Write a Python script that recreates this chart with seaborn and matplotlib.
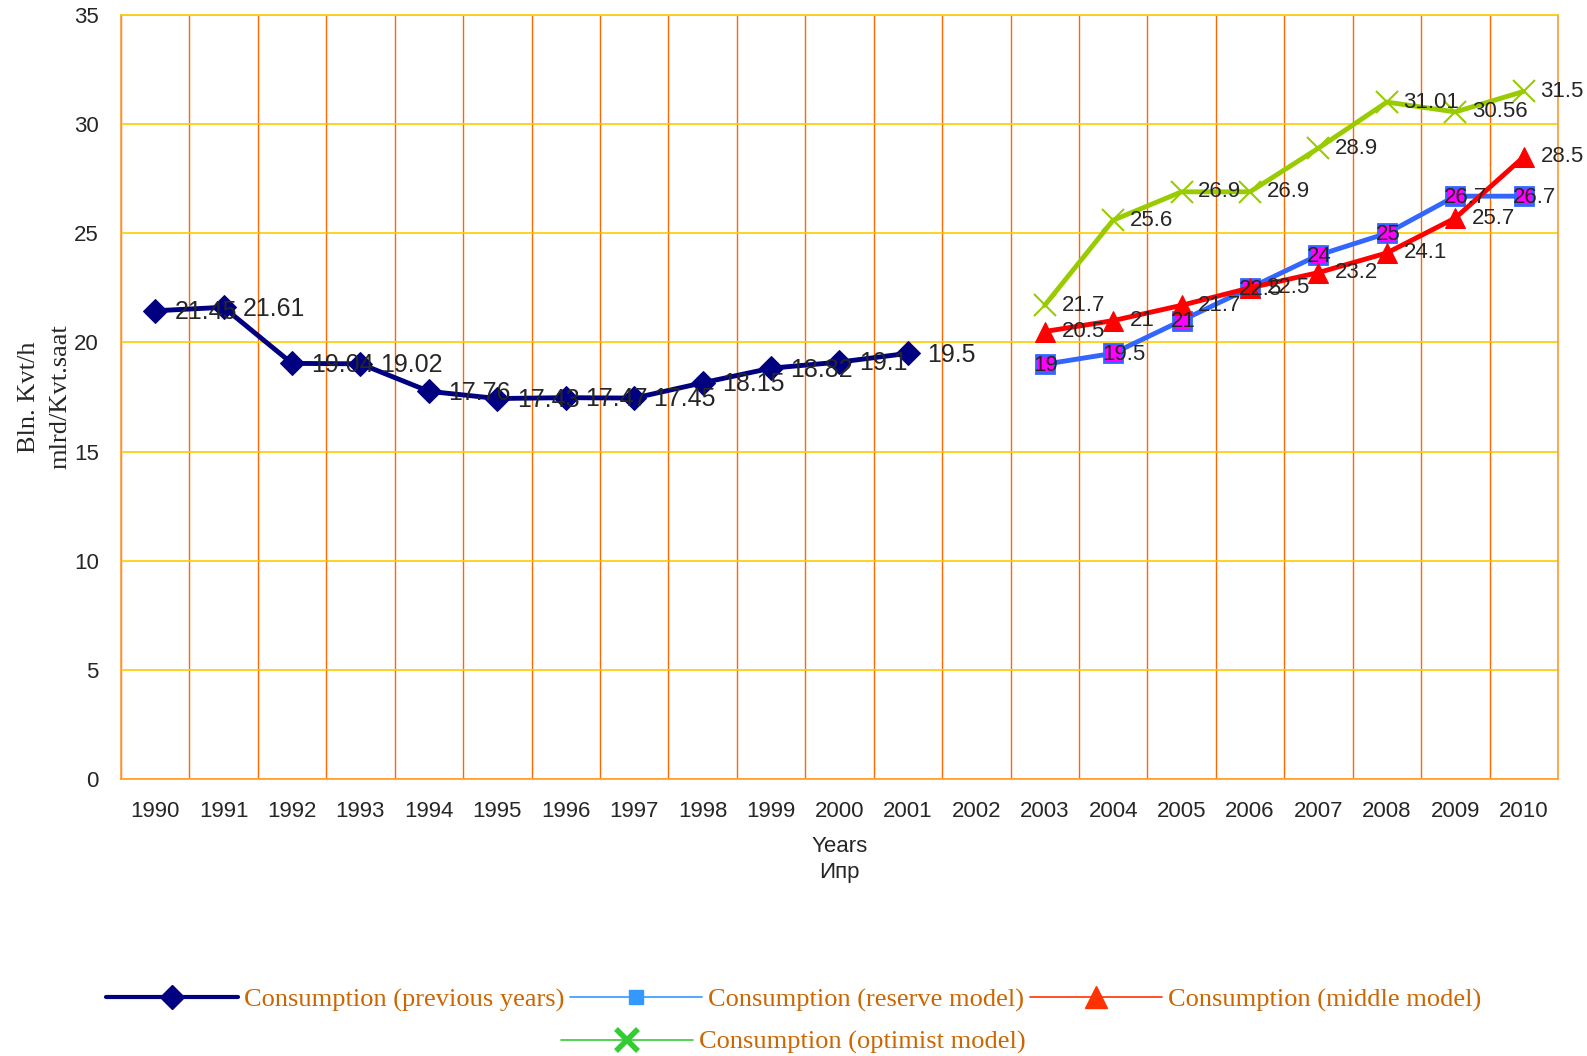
import matplotlib
matplotlib.use('Agg')
import matplotlib.pyplot as plt
import pandas as pd
import seaborn as sns
from matplotlib.lines import Line2D
from matplotlib.ticker import FixedLocator

# Data
prev_years = [1990, 1991, 1992, 1993, 1994, 1995, 1996, 1997, 1998, 1999, 2000, 2001]
prev_values = [21.45, 21.61, 19.04, 19.02, 17.76, 17.43, 17.47, 17.45, 18.15, 18.82, 19.1, 19.5]
model_years = [2003, 2004, 2005, 2006, 2007, 2008, 2009, 2010]
reserve_values = [19, 19.5, 21, 22.5, 24, 25, 26.7, 26.7]
middle_values = [20.5, 21, 21.7, 22.5, 23.2, 24.1, 25.7, 28.5]
optimist_values = [21.7, 25.6, 26.9, 26.9, 28.9, 31.01, 30.56, 31.5]
all_years = list(range(1990, 2011))

legend_labels = ['Consumption (previous years)', 'Consumption (reserve model)',
                 'Consumption (middle model)', 'Consumption (optimist model)']

sns.set_style('white')
plt.rcParams['font.family'] = ['Liberation Sans', 'DejaVu Sans']

fig = plt.figure(figsize=(15.87, 10.56), dpi=100)
ax = fig.add_axes([0.0762, 0.2623, 0.9055, 0.7235])

df_prev = pd.DataFrame({'year': prev_years, 'value': prev_values})
df_res = pd.DataFrame({'year': model_years, 'value': reserve_values})
df_mid = pd.DataFrame({'year': model_years, 'value': middle_values})
df_opt = pd.DataFrame({'year': model_years, 'value': optimist_values})

sns.lineplot(data=df_opt, x='year', y='value', ax=ax, color='#99CC00', lw=3.5,
             marker='x', markersize=16, markeredgewidth=1.5, markeredgecolor='#99CC00', zorder=3)
sns.lineplot(data=df_res, x='year', y='value', ax=ax, color='#3366FF', lw=3.5,
             marker='s', markersize=13, markerfacecolor='#FF00FF', markeredgecolor='#3366FF',
             markeredgewidth=2, zorder=4)
sns.lineplot(data=df_mid, x='year', y='value', ax=ax, color='#FF0000', lw=3.5,
             marker='^', markersize=15, markerfacecolor='#FF0000', markeredgecolor='#FF0000', zorder=5)
sns.lineplot(data=df_prev, x='year', y='value', ax=ax, color='#000080', lw=3.5,
             marker='D', markersize=12, markerfacecolor='#000080', markeredgecolor='#000080', zorder=5)

# data labels
for x, y in zip(prev_years, prev_values):
    ax.annotate(f'{y:g}', (x, y), xytext=(14, -1), textcoords='offset points',
                ha='left', va='center', fontsize=18, zorder=6)
for x, y in zip(model_years, optimist_values):
    ax.annotate(f'{y:g}', (x, y), xytext=(12, 0), textcoords='offset points',
                ha='left', va='center', fontsize=16, zorder=6)
for x, y in zip(model_years, middle_values):
    ax.annotate(f'{y:g}', (x, y), xytext=(12, 0), textcoords='offset points',
                ha='left', va='center', fontsize=16, zorder=6)
for x, y in zip(model_years, reserve_values):
    ax.annotate(f'{y:g}', (x, y), xytext=(-8, -1), textcoords='offset points',
                ha='left', va='center', fontsize=16, zorder=7)

ax.set_xlim(1989.5, 2010.5)
ax.set_ylim(0, 35)
ax.set_yticks(range(0, 36, 5))
ax.set_xticks(all_years)
ax.set_xticklabels([str(y) for y in all_years], fontsize=16)
ax.tick_params(axis='y', labelsize=16, length=6, color='#FF9933', pad=10)
ax.xaxis.set_minor_locator(FixedLocator([y + 0.5 for y in range(1989, 2011)]))
ax.tick_params(axis='x', which='major', length=0, pad=16)
ax.tick_params(axis='x', which='minor', length=6, color='#FF9933')

ax.grid(axis='y', which='major', color='#FFCC00', lw=1.2)
ax.grid(axis='x', which='minor', color='#FF6600', lw=1.0)
ax.grid(axis='x', which='major', visible=False)
for side in ['left', 'right', 'bottom', 'top']:
    ax.spines[side].set_color('#FF9933')
    ax.spines[side].set_linewidth(1.2)
ax.spines['top'].set_color('#FFCC00')

ax.set_xlabel('Years\nИпр', fontsize=16, labelpad=10, linespacing=1.3)
ax.set_ylabel('Bln. Kvt/h\nmlrd/Kvt.saat', fontsize=19, family='Liberation Serif', labelpad=2,
              linespacing=1.55)

# legend
leg_color = '#CC6600'
h_prev = Line2D([], [], color='#000080', lw=3, marker='D', markersize=12)
h_res = Line2D([], [], color='#3399FF', lw=1.2, marker='s', markersize=10, markeredgecolor='#3399FF')
h_mid = Line2D([], [], color='#FF3300', lw=1.2, marker='^', markersize=16)
h_opt = Line2D([], [], color='#33CC33', lw=1.2, marker='x', markersize=16, markeredgewidth=4)
leg1 = fig.legend([h_prev, h_res, h_mid], legend_labels[:3], loc='center', bbox_to_anchor=(0.5, 0.053),
                  ncol=3, frameon=False, handlelength=5.0, handletextpad=0.25, columnspacing=0.2,
                  prop={'family': 'Liberation Serif', 'size': 19})
for t in leg1.get_texts():
    t.set_color(leg_color)
leg2 = fig.legend([h_opt], legend_labels[3:], loc='center', bbox_to_anchor=(0.5, 0.013),
                  frameon=False, handlelength=5.0, handletextpad=0.25,
                  prop={'family': 'Liberation Serif', 'size': 19})
for t in leg2.get_texts():
    t.set_color(leg_color)

fig.savefig('out.png', dpi=100)
